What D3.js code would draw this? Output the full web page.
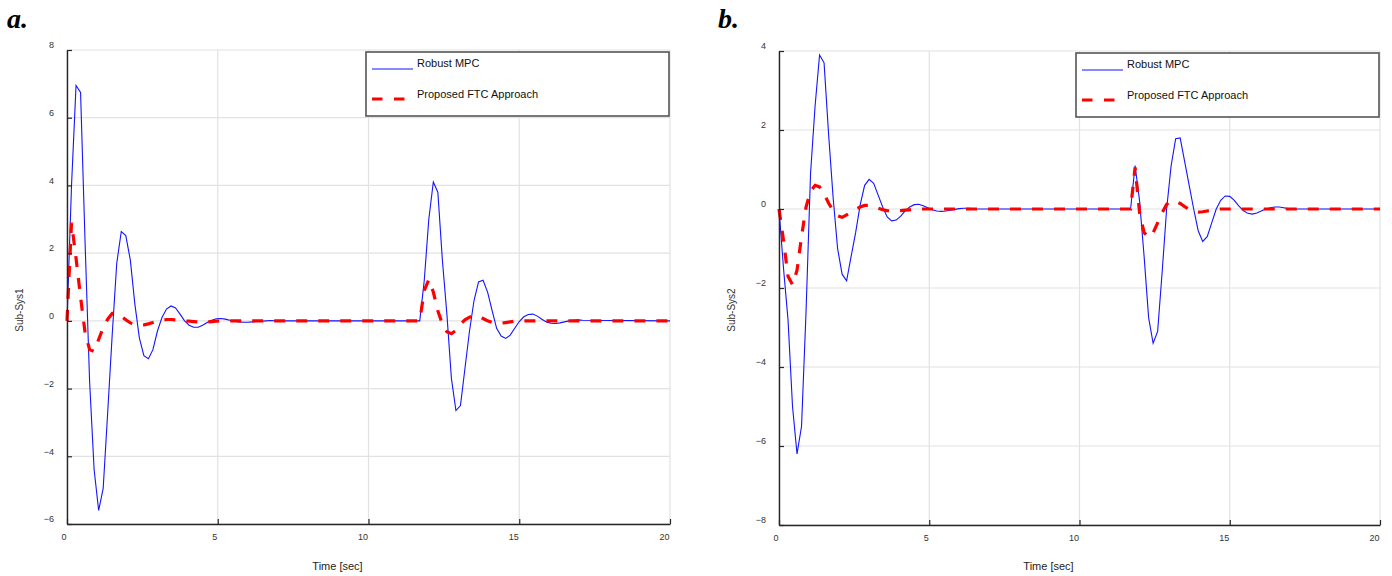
<!DOCTYPE html>
<html>
<head>
<meta charset="utf-8">
<script src="https://cdn.jsdelivr.net/npm/d3@7"></script>
<style>
  body { margin: 0; background: #fff; }
  svg { display: block; }
  text { font-family: "Liberation Sans", Arial, sans-serif; }
</style>
</head>
<body>
<svg id="chart" width="1392" height="576"></svg>
<script>
// sample times (sec), shared by all four curves
var time = [
  0, 0.15, 0.3, 0.45, 0.6, 0.75, 0.9, 1.05, 1.2, 1.35,
  1.5, 1.65, 1.8, 1.95, 2.1, 2.25, 2.4, 2.55, 2.7, 2.85,
  3, 3.15, 3.3, 3.45, 3.6, 3.75, 3.9, 4.05, 4.2, 4.35,
  4.5, 4.65, 4.8, 4.95, 5.1, 5.25, 5.4, 5.55, 5.7, 5.85,
  6, 6.15, 6.3, 6.45, 6.6, 6.75, 6.9,
  11.7, 11.85, 12, 12.15, 12.3, 12.45, 12.6, 12.75, 12.9, 13.05,
  13.2, 13.35, 13.5, 13.65, 13.8, 13.95, 14.1, 14.25, 14.4, 14.55,
  14.7, 14.85, 15, 15.15, 15.3, 15.45, 15.6, 15.75, 15.9, 16.05,
  16.2, 16.35, 16.5, 16.65, 16.8, 16.95, 17.1,
  20
];

var robustSys1 = [
  0, 4.0, 6.95, 6.75, 2.3, -1.8, -4.4, -5.6, -4.95, -2.7,
  -0.4, 1.7, 2.64, 2.52, 1.8, 0.5, -0.5, -1.03, -1.12, -0.85,
  -0.3, 0.1, 0.35, 0.44, 0.38, 0.2, 0, -0.13, -0.19, -0.19,
  -0.13, -0.05, 0.02, 0.06, 0.07, 0.05, 0.02, -0.01, -0.03, -0.04,
  -0.04, -0.03, -0.02, -0.01, 0, 0.01, 0,
  0, 1.2, 3.0, 4.1, 3.8, 1.8, 0.2, -1.7, -2.65, -2.5,
  -1.4, -0.3, 0.6, 1.15, 1.2, 0.85, 0.3, -0.22, -0.45, -0.52,
  -0.42, -0.22, -0.02, 0.12, 0.19, 0.2, 0.14, 0.05, -0.03, -0.07,
  -0.08, -0.06, -0.03, 0, 0.02, 0.03, 0.02,
  0
];

var ftcSys1 = [
  0, 2.9, 1.85, 0.7, -0.35, -0.85, -0.9, -0.55, -0.2, 0.05,
  0.22, 0.22, 0.14, 0.03, -0.06, -0.11, -0.13, -0.12, -0.09, -0.05,
  -0.01, 0.02, 0.04, 0.04, 0.03, 0.02, 0, -0.01, -0.02, -0.03,
  -0.03, -0.03, -0.02, -0.01, 0, 0, 0, 0, 0, 0,
  0, 0, 0, 0, 0, 0, 0,
  0, 0.9, 1.22, 0.85, 0.3, -0.1, -0.32, -0.38, -0.28, -0.1,
  0.03, 0.11, 0.15, 0.13, 0.07, 0, -0.05, -0.07, -0.07, -0.05,
  -0.03, -0.01, 0, 0, 0, 0, 0, 0, 0, 0,
  0, 0, 0, 0, 0, 0, 0,
  0
];

var robustSys2 = [
  0, -1.5, -2.8, -5.0, -6.2, -5.5, -2.6, 0.9, 2.6, 3.9,
  3.7, 1.9, 0.3, -1.0, -1.65, -1.82, -1.2, -0.6, 0.1, 0.6,
  0.75, 0.65, 0.35, 0.05, -0.2, -0.3, -0.28, -0.18, -0.05, 0.05,
  0.11, 0.12, 0.08, 0.03, -0.02, -0.05, -0.06, -0.05, -0.03, -0.01,
  0.01, 0.02, 0.02, 0.01, 0, 0, 0,
  0, 1.1, 0.2, -1.2, -2.75, -3.4, -3.1, -1.6, 0, 1.1,
  1.78, 1.8, 1.2, 0.6, 0, -0.55, -0.82, -0.7, -0.35, 0,
  0.22, 0.33, 0.32, 0.22, 0.08, -0.04, -0.11, -0.13, -0.1, -0.05,
  0, 0.03, 0.05, 0.05, 0.03, 0.01, 0,
  0
];

var ftcSys2 = [
  0, -0.8, -1.7, -1.92, -1.55, -0.7, 0.05, 0.45, 0.6, 0.56,
  0.38, 0.15, -0.04, -0.17, -0.21, -0.15, -0.08, -0.01, 0.05, 0.09,
  0.09, 0.06, 0.02, -0.02, -0.04, -0.05, -0.05, -0.04, -0.03, -0.02,
  -0.01, 0, 0, 0, 0, 0, 0, 0, 0, 0,
  0, 0, 0, 0, 0, 0, 0,
  0, 1.05, -0.1, -0.6, -0.72, -0.6, -0.35, -0.1, 0.12, 0.2,
  0.2, 0.14, 0.06, -0.01, -0.06, -0.08, -0.07, -0.05, -0.03, -0.01,
  0, 0, 0, 0, 0, 0, 0, 0, 0, 0,
  0, 0, 0, 0, 0, 0, 0,
  0
];

var xTicks = [0, 5, 10, 15, 20];
var yTicksSys1 = [-6, -4, -2, 0, 2, 4, 6, 8];
var yTicksSys2 = [-8, -6, -4, -2, 0, 2, 4];
var legendNames = ['Robust MPC', 'Proposed FTC Approach'];

var svg = d3.select('#chart');

function drawPanel(p) {
  var x = d3.scaleLinear().domain([0, 20]).range([p.left, p.right]);
  var y = d3.scaleLinear().domain(d3.extent(p.yTicks)).range([p.bottom, p.top]);
  var g = svg.append('g');

  // grid
  g.selectAll('.vgrid').data(xTicks).enter().append('line')
    .attr('x1', function(d) { return x(d); }).attr('x2', function(d) { return x(d); })
    .attr('y1', p.top).attr('y2', p.bottom)
    .attr('stroke', '#e2e2e2').attr('stroke-width', 1.2);
  g.selectAll('.hgrid').data(p.yTicks).enter().append('line')
    .attr('x1', p.left).attr('x2', p.right)
    .attr('y1', function(d) { return y(d); }).attr('y2', function(d) { return y(d); })
    .attr('stroke', '#e2e2e2').attr('stroke-width', 1.2);

  var line = d3.line()
    .x(function(d) { return x(d[0]); })
    .y(function(d) { return y(d[1]); });

  var robustPts = time.map(function(t, i) { return [t, p.robust[i]]; });
  var ftcPts = time.map(function(t, i) { return [t, p.ftc[i]]; });

  g.append('path').datum(robustPts)
    .attr('d', line).attr('fill', 'none')
    .attr('stroke', '#1414ff').attr('stroke-width', 1.1);
  g.append('path').datum(ftcPts)
    .attr('d', line).attr('fill', 'none')
    .attr('stroke', '#ff0000').attr('stroke-width', 3.2)
    .attr('stroke-dasharray', '11,11');

  // axes
  var yAxis = d3.axisLeft(y).tickValues(p.yTicks).tickSize(-5).tickSizeOuter(0).tickPadding(13);
  var xAxis = d3.axisBottom(x).tickValues(xTicks).tickSize(-5).tickSizeOuter(0).tickPadding(10);

  var ya = g.append('g').attr('transform', 'translate(' + p.left + ',0)').call(yAxis);
  ya.selectAll('text').attr('dy', '-0.25em');
  var xa = g.append('g').attr('transform', 'translate(0,' + p.bottom + ')').call(xAxis);
  xa.selectAll('text').attr('text-anchor', 'end').attr('dx', '-1');

  [ya, xa].forEach(function(a) {
    a.select('.domain').attr('stroke', '#262626').attr('stroke-width', 1.4);
    a.selectAll('.tick line').attr('stroke', '#262626').attr('stroke-width', 1.2);
    a.selectAll('text').attr('fill', '#333').style('font-size', '9px')
      .style('font-family', '"Liberation Sans", Arial, sans-serif');
  });

  // axis titles
  g.append('text')
    .attr('x', (p.left + p.right) / 2 - 31).attr('y', 570)
    .attr('text-anchor', 'middle').attr('fill', '#222')
    .style('font-size', '11px').text('Time [sec]');
  g.append('text')
    .attr('transform', 'translate(' + p.yLabelX + ',310) rotate(-90)')
    .attr('text-anchor', 'middle').attr('dy', '0.35em').attr('fill', '#333')
    .style('font-size', '10px').text(p.yLabel);

  // panel tag
  g.append('text')
    .attr('x', p.tagX).attr('y', 28)
    .style('font-family', '"Liberation Serif", "Times New Roman", serif')
    .style('font-size', '28px').style('font-weight', 'bold').style('font-style', 'italic')
    .text(p.tag);

  // legend
  var lx = p.right - 304, ly = p.top + 2;
  var leg = g.append('g').attr('transform', 'translate(' + lx + ',' + ly + ')');
  leg.append('rect').attr('width', 303).attr('height', 64)
    .attr('fill', '#fff').attr('stroke', '#555').attr('stroke-width', 1.6);
  leg.append('line').attr('x1', 6).attr('x2', 47).attr('y1', 17).attr('y2', 17)
    .attr('stroke', '#1414ff').attr('stroke-width', 1.1);
  leg.append('line').attr('x1', 6).attr('x2', 38.5).attr('y1', 47).attr('y2', 47)
    .attr('stroke', '#ff0000').attr('stroke-width', 3.2).attr('stroke-dasharray', '10.5,11.5');
  leg.selectAll('.lt').data(legendNames).enter().append('text')
    .attr('x', 51).attr('y', function(d, i) { return 14.5 + i * 31.5; })
    .attr('fill', '#111').style('font-size', '11px')
    .text(function(d) { return d; });
}

drawPanel({ tag: 'a.', tagX: 7, left: 67, right: 670, top: 50, bottom: 524,
  yTicks: yTicksSys1, yLabel: 'Sub-Sys1', yLabelX: 19, robust: robustSys1, ftc: ftcSys1 });
drawPanel({ tag: 'b.', tagX: 718, left: 779, right: 1380, top: 51, bottom: 525,
  yTicks: yTicksSys2, yLabel: 'Sub-Sys2', yLabelX: 731, robust: robustSys2, ftc: ftcSys2 });
</script>
</body>
</html>
